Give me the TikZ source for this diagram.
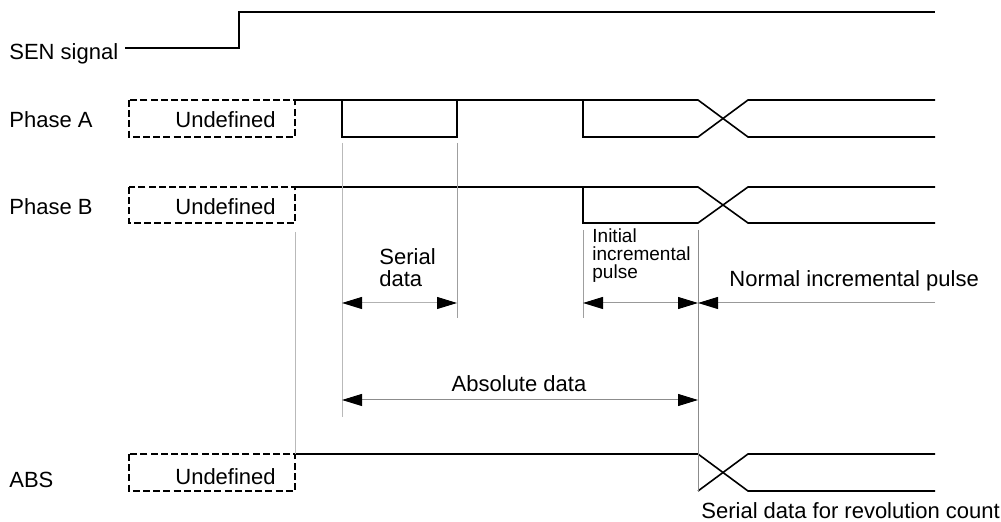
\documentclass[tikz,border=0pt]{standalone}
\usepackage{fontspec}
\setmainfont{Liberation Sans}
\usetikzlibrary{arrows.meta, calc}

\tikzset{
  sig/.style={black, line width=0.8pt},
  undef/.style={black, line width=0.7pt, dash pattern=on 3.5pt off 1.6pt},
  guide/.style={gray!75, line width=0.5pt},
  dimline/.style={gray!80, line width=0.5pt},
  txt/.style={inner sep=0pt, anchor=base west},
}

\begin{document}
\begin{tikzpicture}[x=0.5pt, y=-0.5pt,
  >={Triangle[length=10pt, width=6pt, color=black]},
  font=\fontsize{11}{11}\selectfont]

\useasboundingbox (0,0) rectangle (1001,522);

%-- time columns
\coordinate (Sst) at (125,0);
\coordinate (Sup) at (239,0);
\coordinate (U0)  at (129,0);
\coordinate (T0)  at (295,0);
\coordinate (T1)  at (342,0);
\coordinate (T2)  at (457,0);
\coordinate (T3)  at (583,0);
\coordinate (T4)  at (698,0);
\coordinate (T5)  at (748,0);
\coordinate (TE)  at (935,0);

%-- signal rows (high / low level)
\coordinate (hiS) at (0,12);  \coordinate (loS) at (0,48);
\coordinate (hiA) at (0,100); \coordinate (loA) at (0,137);
\coordinate (hiB) at (0,187); \coordinate (loB) at (0,223);
\coordinate (hiD) at (0,454); \coordinate (loD) at (0,491);

%-- row labels
\node[txt] (lblS) at (9,60)  {SEN signal};
\node[txt] (lblA) at (9,128) {Phase A};
\node[txt] (lblB) at (9,215) {Phase B};
\node[txt] (lblD) at (9,488) {ABS};

%-- undefined region before the signals start
\foreach \r/\y in {A/128,B/215,D/485}{
  \draw[undef] (U0|-hi\r) rectangle (T0|-lo\r);
  \node[txt] (und\r) at (175,\y) {Undefined};
}

%-- SEN signal
\draw[sig] (Sst|-loS) -- (Sup|-loS) -- (Sup|-hiS) -- (TE|-hiS);

%-- phase A / phase B
\foreach \r in {A,B}{
  \draw[sig] (T0|-hi\r) -- (T4|-hi\r) -- (T5|-lo\r) -- (TE|-lo\r);
  \draw[sig] (T3|-hi\r) -- (T3|-lo\r) -- (T4|-lo\r) -- (T5|-hi\r) -- (TE|-hi\r);
}
\draw[sig] (T1|-hiA) rectangle (T2|-loA);

%-- ABS
\draw[sig] (T0|-hiD) -- (T4|-hiD) -- (T5|-loD) -- (TE|-loD);
\draw[sig] (T4|-loD) -- (T5|-hiD) -- (TE|-hiD);

%-- timing guides
\draw[guide, gray!55] (T0|-0,232) -- (T0|-hiD);
\draw[guide, gray!55] (T1|-0,143) -- (T1|-0,417);
\draw[guide] (T2|-0,143) -- (T2|-0,318);
\draw[guide] (T3|-0,230) -- (T3|-0,318);
\draw[guide, gray!90] (T4|-0,230) -- (T4|-loD);

%-- intervals
\draw[dimline, gray!60, <->] (T1|-0,303) -- (T2|-0,303);
\draw[dimline, <->] (T3|-0,303) -- (T4|-0,303);
\draw[dimline, ->] (TE|-0,303) -- (T4|-0,303);
\draw[dimline, gray!90, <->] (T1|-0,400) -- (T4|-0,400);

%-- base of a multi-line node is its last line
\node[txt, align=left] (serial) at (379,287) {Serial\\data};
\node[txt, align=left, font=\fontsize{9.5}{9}\selectfont]
  (initial) at (592,279) {Initial\\incremental\\pulse};
\node[txt] (normal) at (729,287) {Normal incremental pulse};
\node[txt, anchor=base] (absdata) at (519,392) {Absolute data};
\node[txt] (revcount) at (701,519) {Serial data for revolution count};

\end{tikzpicture}
\end{document}
